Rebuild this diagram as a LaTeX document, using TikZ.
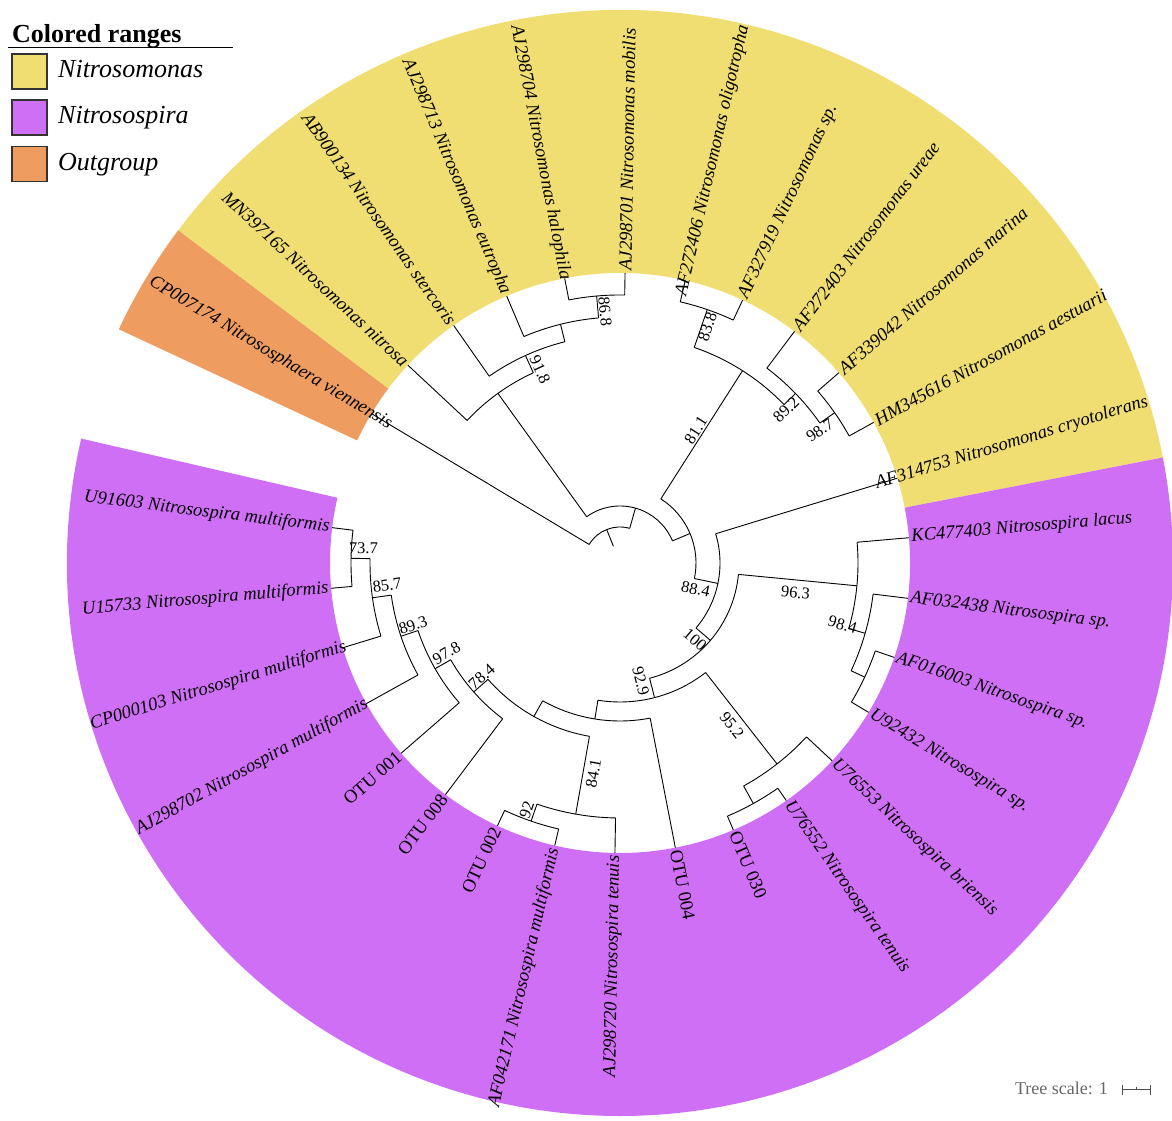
\documentclass[tikz,border=0pt]{standalone}
\usepackage{fontspec}
\setmainfont{Liberation Serif}
\usepackage{xcolor}
\definecolor{somonas}{RGB}{240,222,114}
\definecolor{sospira}{RGB}{207,111,245}
\definecolor{outgrp}{RGB}{238,156,96}
\tikzset{
  leaf/.style={font=\fontsize{18.5}{21}\selectfont\itshape, inner sep=1.5pt},
  otu/.style={font=\fontsize{18.5}{21}\selectfont, inner sep=1.5pt},
  boot/.style={font=\fontsize{16.5}{18}\selectfont, inner sep=1pt},
  branch/.style={line width=0.9pt}
}

\begin{document}
\begin{tikzpicture}[x=1pt,y=1pt]
\useasboundingbox (0,0) rectangle (1172,1121);
\clip (0,0) rectangle (1172,1121);

% legend
\node[font=\fontsize{26}{28}\selectfont\bfseries, anchor=base west, inner sep=0pt] (legtitle) at (12,1078.3) {Colored ranges};
\draw[line width=1pt] (8,1073.3) -- (233,1073.3);
\filldraw[fill=somonas, draw=black!80, line width=1.2pt] (12,1032) rectangle (47,1067);
\filldraw[fill=sospira, draw=black!80, line width=1.2pt] (12,986) rectangle (47,1021);
\filldraw[fill=outgrp, draw=black!80, line width=1.2pt] (12,939.5) rectangle (47,974.5);
\node[font=\fontsize{26}{28}\selectfont\itshape, anchor=base west, inner sep=0pt] (legsomonas) at (58,1043.7) {Nitrosomonas};
\node[font=\fontsize{26}{28}\selectfont\itshape, anchor=base west, inner sep=0pt] (legsospira) at (58,997.7) {Nitrosospira};
\node[font=\fontsize{26}{28}\selectfont\itshape, anchor=base west, inner sep=0pt] (legoutgrp) at (58,950.3) {Outgroup};

% tree scale
\node[font=\fontsize{18}{20}\selectfont, text=black!60, anchor=base east, inner sep=0pt] (scaletxt) at (1108,26) {Tree scale: 1};
\draw[black!70, line width=1pt] (1122,31) -- (1150,31);
\draw[black!70, line width=1pt] (1122,26) -- (1122,36);
\draw[black!70, line width=1pt] (1150,26) -- (1150,36);
\draw[black!70, line width=1pt] (1136,31) -- (1136,34);

\begin{scope}[shift={(620,558)}]
% colored ranges
\fill[outgrp] (155:290) arc[start angle=155, end angle=143, radius=290] -- (143:553) arc[start angle=143, end angle=155, radius=553] -- cycle;
\fill[somonas] (143:290) arc[start angle=143, end angle=11, radius=290] -- (11:553) arc[start angle=11, end angle=143, radius=553] -- cycle;
\fill[sospira] (11:290) arc[start angle=11, end angle=-193, radius=290] -- (-193:553) arc[start angle=-193, end angle=11, radius=553] -- cycle;

% root and outgroup
\draw[branch] (111.65:18) -- (111.65:36);
\draw[branch] (149:36) arc[start angle=149, end angle=74.3, radius=36];
\draw[branch] (149:36) -- (149:290);
\draw[branch] (74.3:36) -- (74.3:57);
\draw[branch] (125.75:57) arc[start angle=125.75, end angle=22.85, radius=57];

% Nitrosomonas, left part
\draw[branch] (125.75:57) -- (125.75:209);
\draw[branch] (137:209) arc[start angle=137, end angle=114.5, radius=209];
\draw[branch] (137:209) -- (137:290);
\draw[branch] (114.5:209) -- (114.5:228);
\draw[branch] (125:228) arc[start angle=125, end angle=104, radius=228];
\draw[branch] (125:228) -- (125:290);
\draw[branch] (104:228) -- (104:246);
\draw[branch] (113:246) arc[start angle=113, end angle=95, radius=246];
\draw[branch] (113:246) -- (113:290);
\draw[branch] (95:246) -- (95:268);
\draw[branch] (101:268) arc[start angle=101, end angle=89, radius=268];
\draw[branch] (101:268) -- (101:290);
\draw[branch] (89:268) -- (89:290);

% Nitrosomonas, right part
\draw[branch] (22.85:57) -- (22.85:76);
\draw[branch] (57.5:76) arc[start angle=57.5, end angle=-11.8, radius=76];
\draw[branch] (57.5:76) -- (57.5:228);
\draw[branch] (71:228) arc[start angle=71, end angle=44, radius=228];
\draw[branch] (71:228) -- (71:268);
\draw[branch] (77:268) arc[start angle=77, end angle=65, radius=268];
\draw[branch] (77:268) -- (77:290);
\draw[branch] (65:268) -- (65:290);
\draw[branch] (44:228) -- (44:244);
\draw[branch] (53:244) arc[start angle=53, end angle=35, radius=244];
\draw[branch] (53:244) -- (53:290);
\draw[branch] (35:244) -- (35:262);
\draw[branch] (41:262) arc[start angle=41, end angle=29, radius=262];
\draw[branch] (41:262) -- (41:290);
\draw[branch] (29:262) -- (29:290);
\draw[branch] (-11.8:76) -- (-11.8:100);
\draw[branch] (17:100) arc[start angle=17, end angle=-40.55, radius=100];
\draw[branch] (17:100) -- (17:290);

% Nitrosospira
\draw[branch] (-40.55:100) -- (-40.55:119);
\draw[branch] (-5.5:119) arc[start angle=-5.5, end angle=-75.6, radius=119];
\draw[branch] (-5.5:119) -- (-5.5:238);
\draw[branch] (5:238) arc[start angle=5, end angle=-16, radius=238];
\draw[branch] (5:238) -- (5:290);
\draw[branch] (-16:238) -- (-16:255);
\draw[branch] (-7:255) arc[start angle=-7, end angle=-25, radius=255];
\draw[branch] (-7:255) -- (-7:290);
\draw[branch] (-25:255) -- (-25:270);
\draw[branch] (-19:270) arc[start angle=-19, end angle=-31, radius=270];
\draw[branch] (-19:270) -- (-19:290);
\draw[branch] (-31:270) -- (-31:290);
\draw[branch] (-75.6:119) -- (-75.6:139);
\draw[branch] (-52:139) arc[start angle=-52, end angle=-99.15, radius=139];
\draw[branch] (-52:139) -- (-52:255);
\draw[branch] (-43:255) arc[start angle=-43, end angle=-61, radius=255];
\draw[branch] (-43:255) -- (-43:290);
\draw[branch] (-61:255) -- (-61:275);
\draw[branch] (-55:275) arc[start angle=-55, end angle=-67, radius=275];
\draw[branch] (-55:275) -- (-55:290);
\draw[branch] (-67:275) -- (-67:290);
\draw[branch] (-99.15:139) -- (-99.15:158);
\draw[branch] (-79:158) arc[start angle=-79, end angle=-119.3, radius=158];
\draw[branch] (-79:158) -- (-79:290);
\draw[branch] (-119.3:158) -- (-119.3:176);
\draw[branch] (-100:176) arc[start angle=-100, end angle=-138.6, radius=176];
\draw[branch] (-100:176) -- (-100:255);
\draw[branch] (-91:255) arc[start angle=-91, end angle=-109, radius=255];
\draw[branch] (-91:255) -- (-91:290);
\draw[branch] (-109:255) -- (-109:273);
\draw[branch] (-103:273) arc[start angle=-103, end angle=-115, radius=273];
\draw[branch] (-103:273) -- (-103:290);
\draw[branch] (-115:273) -- (-115:290);
\draw[branch] (-138.6:176) -- (-138.6:195);
\draw[branch] (-127:195) arc[start angle=-127, end angle=-150.25, radius=195];
\draw[branch] (-127:195) -- (-127:290);
\draw[branch] (-150.25:195) -- (-150.25:213);
\draw[branch] (-139:213) arc[start angle=-139, end angle=-161.5, radius=213];
\draw[branch] (-139:213) -- (-139:290);
\draw[branch] (-161.5:213) -- (-161.5:231);
\draw[branch] (-151:231) arc[start angle=-151, end angle=-172, radius=231];
\draw[branch] (-151:231) -- (-151:290);
\draw[branch] (-172:231) -- (-172:250);
\draw[branch] (-163:250) arc[start angle=-163, end angle=-181, radius=250];
\draw[branch] (-163:250) -- (-163:290);
\draw[branch] (-181:250) -- (-181:269);
\draw[branch] (-175:269) arc[start angle=-175, end angle=-187, radius=269];
\draw[branch] (-175:269) -- (-175:290);
\draw[branch] (-187:269) -- (-187:290);

% bootstrap values
\node[boot, rotate=-85] (b868) at (93.4:252) {86.8};
\node[boot, rotate=-65.5] (b918) at (112.5:209) {91.8};
\node[boot, rotate=57.5] (b811) at (60.3:153) {81.1};
\node[boot, rotate=71] (b838) at (69.7:252) {83.8};
\node[boot, rotate=44] (b892) at (42.7:226) {89.2};
\node[boot, rotate=35] (b987) at (33.6:240) {98.7};
\node[boot, rotate=-11.8] (b884) at (-19:80) {88.4};
\node[boot, rotate=-40.55] (b100) at (-45.7:107.5) {100};
\node[boot, rotate=-5.5] (b963) at (-9.7:178) {96.3};
\node[boot, rotate=-16] (b984) at (-15.5:231) {98.4};
\node[boot, rotate=-75.6] (b929) at (-80:120) {92.9};
\node[boot, rotate=-52] (b952) at (-55.4:197) {95.2};
\node[boot, rotate=80] (b841) at (-97.2:212) {84.1};
\node[boot, rotate=71] (b92) at (-110.7:264) {92};
\node[boot, rotate=41.4] (b784) at (-140.6:179) {78.4};
\node[boot, rotate=29.75] (b978) at (-152.5:195.5) {97.8};
\node[boot, rotate=18.5] (b893) at (-163.3:216) {89.3};
\node[boot, rotate=8] (b857) at (-174.6:234) {85.7};
\node[boot, rotate=-1] (b737) at (-183.3:257) {73.7};

% leaf labels
\node[leaf, rotate=-31, anchor=east] (cp007174) at (149:266) {CP007174 Nitrososphaera viennensis};
\node[leaf, rotate=-43, anchor=east] (mn397165) at (137:291) {MN397165 Nitrosomonas nitrosa};
\node[leaf, rotate=-55, anchor=east] (ab900134) at (125:291) {AB900134 Nitrosomonas stercoris};
\node[leaf, rotate=-67, anchor=east] (aj298713) at (113:291) {AJ298713 Nitrosomonas eutropha};
\node[leaf, rotate=-79, anchor=east] (aj298704) at (101:287) {AJ298704 Nitrosomonas halophila};
\node[leaf, rotate=89, anchor=west] (aj298701) at (89:291) {AJ298701 Nitrosomonas mobilis};
\node[leaf, rotate=77, anchor=west] (af272406) at (77:273) {AF272406 Nitrosomonas oligotropha};
\node[leaf, rotate=65, anchor=west] (af327919) at (65:291) {AF327919 Nitrosomonas sp.};
\node[leaf, rotate=53, anchor=west] (af272403) at (53:291) {AF272403 Nitrosomonas ureae};
\node[leaf, rotate=41, anchor=west] (af339042) at (41:291) {AF339042 Nitrosomonas marina};
\node[leaf, rotate=29, anchor=west] (hm345616) at (29:291) {HM345616 Nitrosomonas aestuarii};
\node[leaf, rotate=17, anchor=west] (af314753) at (17:266) {AF314753 Nitrosomonas cryotolerans};
\node[leaf, rotate=5, anchor=west] (kc477403) at (5:291) {KC477403 Nitrosospira lacus};
\node[leaf, rotate=-7, anchor=west] (af032438) at (-7:291) {AF032438 Nitrosospira sp.};
\node[leaf, rotate=-19, anchor=west] (af016003) at (-19:291) {AF016003 Nitrosospira sp.};
\node[leaf, rotate=-31, anchor=west] (u92432) at (-31:291) {U92432 Nitrosospira sp.};
\node[leaf, rotate=-43, anchor=west] (u76553) at (-43:291) {U76553 Nitrosospira briensis};
\node[leaf, rotate=-55, anchor=west] (u76552) at (-55:291) {U76552 Nitrosospira tenuis};
\node[otu, rotate=-67, anchor=west] (otu030) at (-67:291) {OTU 030};
\node[otu, rotate=-79, anchor=west] (otu004) at (-79:291) {OTU 004};
\node[leaf, rotate=89, anchor=east] (aj298720) at (-91:291) {AJ298720 Nitrosospira tenuis};
\node[leaf, rotate=77, anchor=east] (af042171) at (-103:291) {AF042171 Nitrosospira multiformis};
\node[otu, rotate=65, anchor=east] (otu002) at (-115:291) {OTU 002};
\node[otu, rotate=53, anchor=east] (otu008) at (-127:291) {OTU 008};
\node[otu, rotate=41, anchor=east] (otu001) at (-139:291) {OTU 001};
\node[leaf, rotate=29, anchor=east] (aj298702) at (-151:288) {AJ298702 Nitrosospira multiformis};
\node[leaf, rotate=17, anchor=east] (cp000103) at (-163:285) {CP000103 Nitrosospira multiformis};
\node[leaf, rotate=5, anchor=east] (u15733) at (-175:291) {U15733 Nitrosospira multiformis};
\node[leaf, rotate=-7, anchor=east] (u91603) at (-187:291) {U91603 Nitrosospira multiformis};
\end{scope}
\end{tikzpicture}
\end{document}
